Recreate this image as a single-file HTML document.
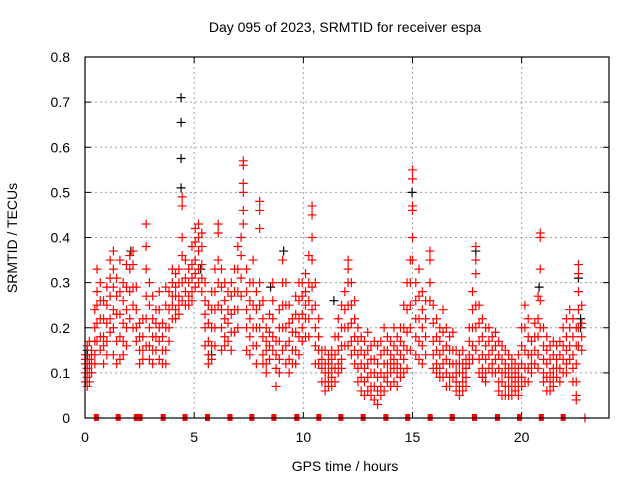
<!DOCTYPE html>
<html><head><meta charset="utf-8"><style>
html,body{margin:0;padding:0;background:#fff;}
svg{display:block;font-family:"Liberation Sans",sans-serif;}
</style></head><body>
<svg id="chart" width="640" height="480" viewBox="0 0 640 480">
<rect x="0" y="0" width="640" height="480" fill="#fff"/>
<text x="345" y="32" font-size="14" text-anchor="middle" fill="#000">Day 095 of 2023, SRMTID for receiver espa</text>
<g id="grid"></g>
<g id="axes"></g>
<g id="black"></g>
<g id="red"></g>
<rect x="85" y="57" width="524" height="361" fill="none" stroke="#000" stroke-width="1.2"/>
<text x="345" y="471" font-size="14" text-anchor="middle">GPS time / hours</text>
<text x="17" y="238" font-size="14" text-anchor="middle" transform="rotate(-90 17 238)">SRMTID / TECUs</text>
</svg>
<script>
const xTicks=[0,5,10,15,20];
const yTicks=[0,0.1,0.2,0.3,0.4,0.5,0.6,0.7,0.8];
const yTickLabels=["0","0.1","0.2","0.3","0.4","0.5","0.6","0.7","0.8"];
const zeroTimes=[0.52,1.52,2.35,2.52,3.58,4.58,5.61,6.64,7.64,8.65,9.7,10.71,11.72,12.74,13.78,14.78,15.81,16.82,17.84,18.89,19.9,20.9,21.9];
const blackRows=[[4.4,0.71,0.655,0.575,0.51],[14.98,0.5],[2.1,0.37],[0.1,0.15,0.14],[5.8,0.14],[9.1,0.37],[11.4,0.26],[17.9,0.37],[20.8,0.29],[22.6,0.31],[22.7,0.2,0.22],[5.3,0.33],[8.5,0.29]];
const redRows=[
[0.02,0.14,0.12,0.1,0.08,0.13],[0.1,0.16,0.11,0.09,0.07,0.12],[0.2,0.17,0.13,0.1,0.12,0.08],[0.3,0.15,0.12,0.1,0.14],
[0.45,0.24,0.2,0.17,0.14,0.12],[0.55,0.33,0.28,0.25,0.21,0.17],[0.7,0.3,0.26,0.22,0.18,0.15],[0.85,0.26,0.22,0.18,0.16,0.12],
[1.0,0.29,0.25,0.21,0.17,0.14],[1.15,0.35,0.31,0.27,0.22,0.19],[1.3,0.37,0.33,0.29,0.24,0.2,0.14],[1.45,0.31,0.27,0.23,0.17,0.12],
[1.6,0.35,0.28,0.23,0.18,0.13],[1.75,0.3,0.26,0.21,0.17,0.14],[1.9,0.34,0.29,0.24,0.2,0.16],[2.05,0.36,0.33,0.28,0.22],
[2.2,0.37,0.34,0.29,0.25,0.2],[2.35,0.29,0.24,0.2,0.17],[2.5,0.21,0.18,0.15,0.12],[2.65,0.22,0.18,0.15,0.13],
[2.8,0.43,0.38,0.33,0.27,0.22,0.16],[2.95,0.3,0.25,0.2,0.16,0.13],[3.1,0.27,0.22,0.18,0.15,0.12],[3.25,0.24,0.21,0.18,0.15],
[3.4,0.28,0.24,0.2,0.17,0.13],[3.55,0.21,0.18,0.15,0.12],[3.7,0.29,0.25,0.2,0.15,0.12],[3.85,0.28,0.24,0.2,0.17],
[4.0,0.33,0.3,0.27,0.25,0.22],[4.15,0.32,0.29,0.27,0.24,0.22],[4.3,0.33,0.3,0.27,0.25,0.23],[4.45,0.49,0.47,0.4,0.36,0.3,0.26],
[4.6,0.35,0.31,0.28,0.25],[4.75,0.33,0.3,0.27,0.25],[4.9,0.38,0.34,0.31,0.28,0.26],[5.05,0.42,0.39,0.35,0.32,0.29],
[5.2,0.43,0.4,0.37,0.33,0.3],[5.35,0.41,0.38,0.34,0.31,0.28],[5.5,0.3,0.26,0.23,0.2,0.16],[5.65,0.25,0.21,0.17,0.14,0.12],
[5.8,0.28,0.24,0.2,0.16,0.13],[5.95,0.33,0.28,0.24,0.2,0.16],[6.1,0.43,0.41,0.35,0.3,0.25],[6.25,0.33,0.29,0.24,0.2,0.15],
[6.4,0.3,0.26,0.22,0.18,0.16],[6.55,0.28,0.24,0.21,0.17],[6.7,0.3,0.27,0.23,0.19,0.15],[6.85,0.33,0.28,0.24,0.19],
[7.0,0.38,0.33,0.28,0.24,0.2],[7.15,0.4,0.36,0.31,0.27],[7.25,0.57,0.56,0.52,0.5,0.46,0.43],[7.4,0.33,0.28,0.24,0.2,0.15],
[7.55,0.3,0.26,0.22,0.18,0.14],[7.7,0.35,0.3,0.25,0.2,0.16],[7.85,0.28,0.24,0.2,0.16,0.12],[8.0,0.48,0.46,0.42,0.3,0.25,0.2],
[8.15,0.26,0.22,0.18,0.14,0.12],[8.3,0.2,0.17,0.15,0.12,0.1],[8.45,0.23,0.19,0.16,0.13],[8.6,0.3,0.26,0.22,0.18,0.15],
[8.75,0.17,0.14,0.11,0.07],[8.9,0.24,0.2,0.17,0.13,0.1],[9.05,0.35,0.3,0.25,0.2,0.15],[9.2,0.3,0.25,0.2,0.16,0.12],
[9.35,0.25,0.21,0.17,0.13,0.1],[9.5,0.22,0.19,0.15,0.12],[9.65,0.27,0.23,0.19,0.15,0.12],[9.8,0.3,0.26,0.22,0.18,0.14],
[9.95,0.3,0.27,0.23,0.2,0.17],[10.1,0.32,0.28,0.25,0.22,0.18],[10.25,0.36,0.3,0.26,0.22,0.18],[10.4,0.47,0.45,0.4,0.35,0.29,0.24],
[10.55,0.3,0.25,0.2,0.16,0.12],[10.7,0.22,0.18,0.15,0.12],[10.85,0.15,0.13,0.11,0.08],[11.0,0.15,0.12,0.1,0.08,0.06],
[11.15,0.14,0.12,0.1,0.08,0.07],[11.3,0.15,0.13,0.11,0.09,0.07],[11.45,0.18,0.14,0.11,0.08],[11.6,0.22,0.18,0.15,0.12,0.1],
[11.75,0.25,0.2,0.16,0.13,0.11],[11.9,0.28,0.24,0.2,0.16],[12.05,0.35,0.33,0.3,0.25,0.2,0.16],[12.2,0.3,0.25,0.21,0.17,0.14],
[12.35,0.26,0.22,0.18,0.15,0.12],[12.5,0.2,0.17,0.14,0.11,0.08],[12.65,0.18,0.15,0.12,0.09,0.06],[12.8,0.17,0.14,0.11,0.08,0.05],
[12.95,0.19,0.15,0.12,0.09,0.06],[13.1,0.16,0.13,0.1,0.07,0.05],[13.25,0.17,0.13,0.1,0.07,0.04],[13.4,0.16,0.12,0.09,0.06,0.03],
[13.55,0.17,0.14,0.1,0.07,0.05],[13.7,0.2,0.15,0.12,0.09,0.06],[13.85,0.18,0.15,0.12,0.1,0.08],[14.0,0.17,0.14,0.12,0.1,0.07],
[14.15,0.2,0.16,0.13,0.11,0.08],[14.3,0.18,0.15,0.12,0.1,0.07],[14.45,0.2,0.17,0.14,0.11,0.09],[14.6,0.25,0.2,0.16,0.13,0.1],
[14.75,0.3,0.24,0.19,0.15,0.11],[14.9,0.35,0.3,0.25,0.2,0.15],[15.0,0.55,0.53,0.47,0.46,0.4,0.35],[15.15,0.3,0.26,0.22,0.18,0.14],
[15.3,0.33,0.27,0.22,0.17,0.13],[15.45,0.28,0.24,0.2,0.16,0.12],[15.6,0.26,0.22,0.18,0.14],[15.8,0.37,0.35,0.3,0.26],
[15.95,0.25,0.21,0.17,0.14,0.11],[16.1,0.22,0.18,0.15,0.12,0.1],[16.25,0.2,0.17,0.14,0.11,0.09],[16.4,0.24,0.19,0.15,0.12,0.09],
[16.55,0.2,0.16,0.13,0.1,0.07],[16.7,0.18,0.15,0.12,0.09,0.07],[16.85,0.19,0.15,0.12,0.09],[17.0,0.15,0.12,0.1,0.08,0.06],
[17.15,0.14,0.12,0.1,0.07,0.05],[17.3,0.15,0.12,0.1,0.08,0.06],[17.45,0.13,0.11,0.09,0.07],[17.6,0.2,0.17,0.14,0.12],
[17.75,0.28,0.24,0.2,0.16,0.13],[17.9,0.38,0.35,0.32,0.25,0.2,0.15],[18.05,0.25,0.21,0.17,0.13,0.1],[18.2,0.22,0.18,0.14,0.11,0.09],
[18.35,0.2,0.16,0.13,0.1,0.08],[18.5,0.2,0.17,0.14,0.11],[18.65,0.18,0.15,0.12,0.1],[18.8,0.19,0.16,0.13,0.1],
[18.95,0.17,0.14,0.11,0.08,0.06],[19.1,0.16,0.13,0.1,0.08,0.05],[19.25,0.15,0.12,0.1,0.07,0.05],[19.4,0.14,0.11,0.09,0.07,0.05],
[19.55,0.13,0.11,0.09,0.07,0.05],[19.7,0.12,0.1,0.08,0.06],[19.85,0.14,0.11,0.09,0.07,0.05],[20.0,0.2,0.16,0.12,0.09,0.07],
[20.15,0.25,0.2,0.15,0.11,0.08],[20.3,0.22,0.18,0.14,0.11,0.08],[20.45,0.17,0.14,0.12,0.1],[20.6,0.21,0.18,0.15,0.12],
[20.75,0.27,0.22,0.18,0.14,0.11],[20.85,0.41,0.4,0.33,0.26,0.2],[21.0,0.2,0.16,0.13,0.1,0.08],[21.15,0.18,0.15,0.12,0.09,0.06],
[21.3,0.16,0.13,0.1,0.08,0.06],[21.45,0.17,0.14,0.11,0.09,0.07],[21.6,0.16,0.13,0.11,0.09],[21.75,0.17,0.14,0.11,0.08],
[21.9,0.2,0.16,0.13,0.1],[22.05,0.22,0.18,0.15,0.12,0.1],[22.2,0.24,0.2,0.16,0.13],[22.35,0.22,0.18,0.14,0.11,0.08],
[22.5,0.2,0.16,0.12,0.08,0.05,0.04],[22.6,0.34,0.32,0.28,0.24,0.2,0.16],[22.75,0.25,0.21,0.18,0.15]
];
const NS="http://www.w3.org/2000/svg";
const X0=85,X1=609,Y0=418,Y1=57,XMAX=24,YMAX=0.8;
function xs(t){return X0+(X1-X0)*t/XMAX;}
function ys(v){return Y0-(Y0-Y1)*v/YMAX;}
function mk(tag,attrs,parent){const e=document.createElementNS(NS,tag);for(const k in attrs)e.setAttribute(k,attrs[k]);parent.appendChild(e);return e;}
const grid=document.getElementById('grid'),axes=document.getElementById('axes');
yTicks.forEach((v,i)=>{
  const y=ys(v);
  if(i>0&&i<yTicks.length-1){const g=mk('line',{x1:X0,x2:X1,y1:y,y2:y,stroke:'#a0a0a0','stroke-dasharray':'2,3'},grid);
  
  }
  const t1=mk('line',{x1:X0,x2:X0+6,y1:y,y2:y,stroke:'#000'},axes);
  
  
  const t2=mk('line',{x1:X1-6,x2:X1,y1:y,y2:y,stroke:'#000'},axes);
  
  
  const l=mk('text',{x:70,y:y+5,'font-size':14,'text-anchor':'end'},axes);l.textContent=yTickLabels[i];
  
  
});
xTicks.forEach(t=>{
  const x=xs(t);
  if(t>0){const g=mk('line',{x1:x,x2:x,y1:Y1,y2:Y0,stroke:'#a0a0a0','stroke-dasharray':'2,3'},grid);
  
  }
  const t1=mk('line',{x1:x,x2:x,y1:Y0,y2:Y0-6,stroke:'#000'},axes);
  
  
  const t2=mk('line',{x1:x,x2:x,y1:Y1,y2:Y1+6,stroke:'#000'},axes);
  
  
  const l=mk('text',{x:x,y:442,'font-size':14,'text-anchor':'middle'},axes);l.textContent=String(t);
  
  
});
function plus(g,t,v,col){
  const x=xs(t),y=ys(v);
  const p=mk('path',{d:`M${x-4.5},${y}H${x+4.5}M${x},${y-4.5}V${y+4.5}`,stroke:col,'stroke-width':1.2,fill:'none'},g);
  
  
}
const bg=document.getElementById('black'),rg=document.getElementById('red');
blackRows.forEach(r=>{for(let i=1;i<r.length;i++)plus(bg,r[0],r[i],'#000');});
redRows.forEach(r=>{for(let i=1;i<r.length;i++)plus(rg,r[0],r[i],'#f00');});
zeroTimes.forEach(t=>{
  const x=xs(t),y=ys(0);
  const s=mk('rect',{x:x-2.5,y:y-4,width:5,height:7,fill:'#f00'},rg);
  
  
});
plus(rg,22.9,0,'#f00');
</script>
</body></html>
